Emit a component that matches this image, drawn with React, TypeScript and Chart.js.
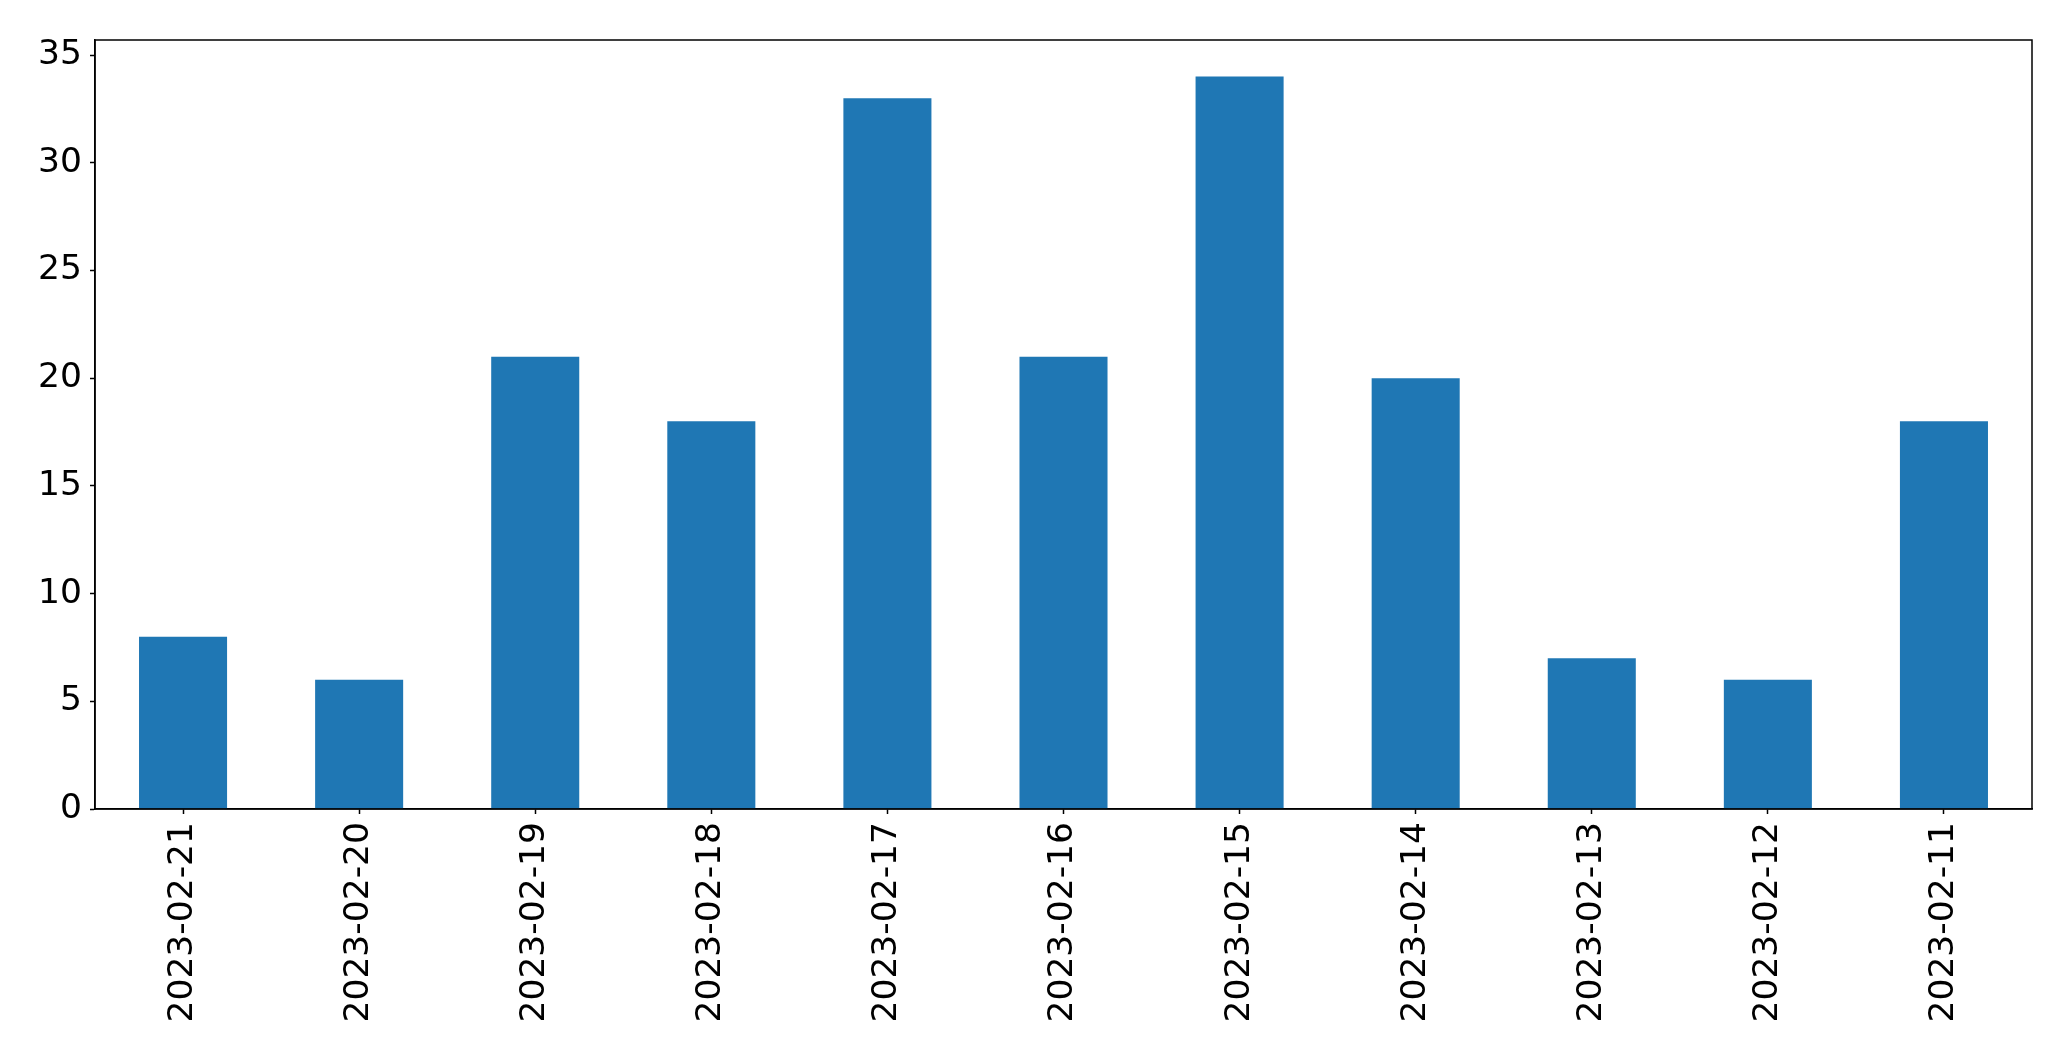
import React, { useEffect, useRef } from "react";
import { Chart, registerables } from "chart.js";

Chart.register(...registerables);

const categories = [
  "2023-02-21", "2023-02-20", "2023-02-19", "2023-02-18", "2023-02-17", "2023-02-16",
  "2023-02-15", "2023-02-14", "2023-02-13", "2023-02-12", "2023-02-11",
];
const counts = [8, 6, 21, 18, 33, 21, 34, 20, 7, 6, 18];
const yTicks = [0, 5, 10, 15, 20, 25, 30, 35];
const yMax = 35.7;

const FONT = "'DejaVu Sans', sans-serif";

const frame = {
  id: "frame",
  afterDraw(chart: any) {
    const { ctx, chartArea } = chart;
    ctx.save();
    ctx.strokeStyle = "#000";
    ctx.lineWidth = 1.5;
    ctx.strokeRect(chartArea.left, chartArea.top, chartArea.right - chartArea.left, chartArea.bottom - chartArea.top);
    ctx.restore();
  },
};

export default function App() {
  const ref = useRef<HTMLCanvasElement | null>(null);
  useEffect(() => {
    document.body.style.margin = "0";
    const c = new Chart(ref.current!, {
      type: "bar",
      data: {
        labels: categories,
        datasets: [
          {
            data: counts,
            backgroundColor: "#1f77b4",
            borderWidth: 0,
            barPercentage: 0.5,
            categoryPercentage: 1,
          },
        ],
      },
      options: {
        animation: false,
        responsive: false,
        layout: { padding: { left: 0, top: 40, right: 39, bottom: 0 } },
        plugins: { legend: { display: false }, tooltip: { enabled: false } },
        scales: {
          x: {
            offset: true,
            grid: { offset: false, drawOnChartArea: false, drawTicks: true, tickLength: 5, tickColor: "#000", tickWidth: 1.5 },
            border: { display: true, color: "#000", width: 1.5 },
            ticks: {
              minRotation: 90,
              maxRotation: 90,
              autoSkip: false,
              color: "#000",
              padding: 8,
              font: { family: FONT, size: 34.5 },
            },
            afterFit: (s: any) => {
              s.height = 252;
            },
          },
          y: {
            min: 0,
            max: yMax,
            grid: { drawOnChartArea: false, drawTicks: true, tickLength: 5, tickColor: "#000", tickWidth: 1.5 },
            border: { display: true, color: "#000", width: 1.5 },
            ticks: {
              stepSize: 5,
              includeBounds: false,
              color: "#000",
              padding: 8,
              font: { family: FONT, size: 34.5 },
            } as any,
            afterBuildTicks: (s: any) => {
              s.ticks = yTicks.map((v) => ({ value: v }));
            },
            afterFit: (s: any) => {
              s.width = 95;
            },
          },
        },
      },
      plugins: [frame],
    });
    return () => c.destroy();
  }, []);
  return (
    <div style={{ width: 2071, height: 1061 }}>
      <canvas ref={ref} width={2071} height={1061} style={{ display: "block" }} />
    </div>
  );
}
